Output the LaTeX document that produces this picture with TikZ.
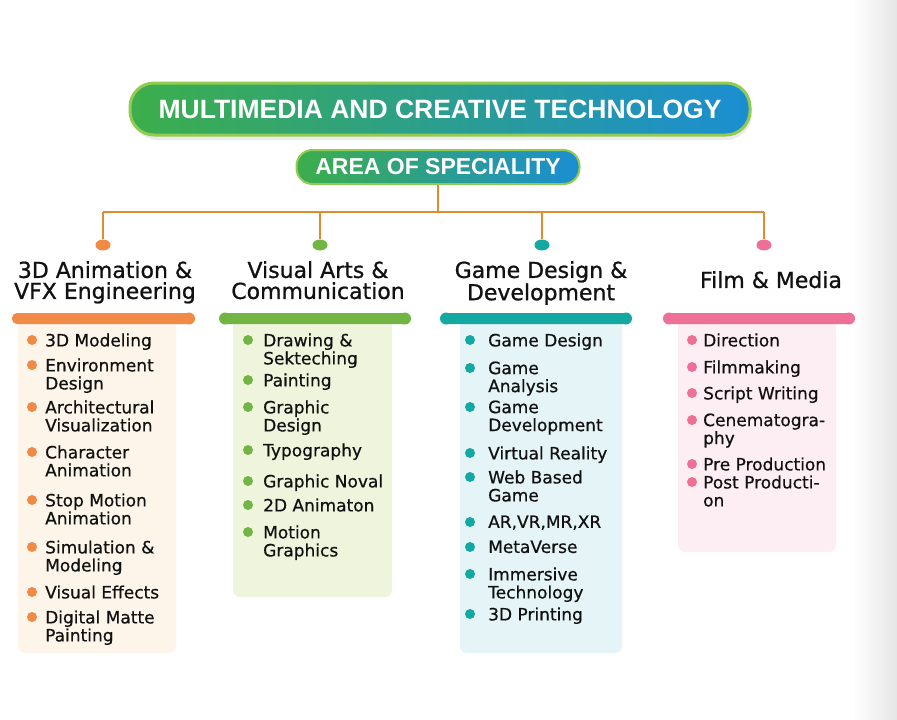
\documentclass[tikz,border=0pt]{standalone}
\usepackage{fontspec}
\setmainfont{DejaVu Sans}
\newfontfamily\medfont{DejaVu Sans}[FakeBold=0.6]
\newfontfamily\headfont{DejaVu Sans}[FakeBold=0.9]
\newfontfamily\titlefont{Liberation Sans}
\usetikzlibrary{shapes.geometric}
\definecolor{cOr}{HTML}{F08A46}
\definecolor{cGr}{HTML}{72B545}
\definecolor{cTe}{HTML}{14A8A2}
\definecolor{cPi}{HTML}{EE7096}
\definecolor{pOr}{HTML}{FDF4EA}
\definecolor{pGr}{HTML}{EFF5DC}
\definecolor{pTe}{HTML}{E5F4F7}
\definecolor{pPi}{HTML}{FDEEF3}
\definecolor{gL}{HTML}{3CAE4B}
\definecolor{gR}{HTML}{1B8ED3}
\definecolor{tborder}{HTML}{93CB52}
\definecolor{lineor}{HTML}{DE8B32}
\definecolor{txt}{HTML}{111111}
\tikzset{
  item/.style={anchor=north west, inner sep=0pt, align=left, font=\medfont\fontsize{17}{18}\selectfont, text=txt},
  bul/.style={circle, fill=#1, minimum size=10pt, inner sep=0pt},
  dot/.style={ellipse, fill=#1, minimum width=15pt, minimum height=11pt, inner sep=0pt},
  head/.style={anchor=north, inner sep=0pt, align=center, font=\headfont\fontsize{22}{21}\selectfont, text=txt},
  conn/.style={draw=lineor, line width=2.5pt},
  gradbox/.style={draw=tborder, left color=gL, right color=gR, text=white, inner sep=0pt},
  barbox/.style={fill=#1, rounded corners=5pt, minimum height=11pt, inner sep=0pt},
  barend/.style={circle, fill=#1, minimum size=12pt, inner sep=0pt},
}
\begin{document}
\begin{tikzpicture}[x=1pt,y=-1pt]
\useasboundingbox (0,0) rectangle (897,720);
\fill[white] (0,0) rectangle (897,720);
\shade[left color=white, right color=black!10] (852,0) rectangle (897,720);

% title boxes
\fill[black!8, rounded corners=26pt] (132,88) rectangle (752,140);
\node[gradbox, line width=3pt, rounded corners=24pt, minimum width=620pt, minimum height=52pt,
      font=\titlefont\bfseries\fontsize{26.5}{30}\selectfont] (title) at (440,109) {MULTIMEDIA AND CREATIVE TECHNOLOGY};
\node[gradbox, line width=2pt, rounded corners=16pt, minimum width=283pt, minimum height=34pt,
      font=\titlefont\bfseries\fontsize{23}{26}\selectfont] (sub) at (438,167) {AREA OF SPECIALITY};

% connectors
\coordinate (h1) at (103,212);
\coordinate (h4) at (764,212);
\node[dot=cOr] (d1) at (103,245) {};
\node[dot=cGr] (d2) at (320,245) {};
\node[dot=cTe] (d3) at (542,245) {};
\node[dot=cPi] (d4) at (764,245) {};
\draw[conn] (sub.south) -- (sub.south |- h1);
\draw[conn] (h1) -- (h4);
\draw[conn] (h1) -- (d1);
\draw[conn] (d2 |- h1) -- (d2);
\draw[conn] (d3 |- h1) -- (d3);
\draw[conn] (h4) -- (d4);

% headings
\node[head] (t1) at (105,261) {3D Animation \&\\VFX Engineering};
\node[head] (t2) at (318,261) {Visual Arts \&\\Communication};
\node[head] (t3) at (541,261) {Game Design \&\\Development};
\node[head] (t4) at (771,271) {Film \& Media};

% panels
\fill[pOr, rounded corners=7pt] (18,318) rectangle (176,653);
\fill[pGr, rounded corners=7pt] (233,318) rectangle (392,597);
\fill[pTe, rounded corners=7pt] (460,318) rectangle (622,653);
\fill[pPi, rounded corners=7pt] (678,318) rectangle (836,552);

% bars
\node[barbox=cOr, minimum width=181pt] (b1) at (102.5,318.5) {};
\node[barend=cOr] (b1r) at (189,318.5) {};
\node[barbox=cGr, minimum width=188pt] (b2) at (315,318.5) {};
\node[barend=cGr] (b2l) at (225,318.5) {};
\node[barend=cGr] (b2r) at (405,318.5) {};
\node[barbox=cTe, minimum width=188pt] (b3) at (536,318.5) {};
\node[barend=cTe] (b3l) at (446,318.5) {};
\node[barend=cTe] (b3r) at (626,318.5) {};
\node[barbox=cPi, minimum width=188pt] (b4) at (759,318.5) {};
\node[barend=cPi] (b4l) at (669,318.5) {};
\node[barend=cPi] (b4r) at (849,318.5) {};

% items
\foreach \yy/\txt [count=\i] in {340/{3D Modeling}, 365/{Environment\\Design}, 407/{Architectural\\Visualization},
   452/{Character\\Animation}, 500/{Stop Motion\\Animation}, 547/{Simulation \&\\Modeling},
   592/{Visual Effects}, 617/{Digital Matte\\Painting}}
{ \node[bul=cOr] (ab\i) at (32,\yy) {};
  \node[item] (a\i) at (45,\yy-6.7) {\txt}; }

\foreach \yy/\txt [count=\i] in {340/{Drawing \&\\Sekteching}, 380/{Painting}, 407/{Graphic\\Design},
   450/{Typography}, 481/{Graphic Noval}, 505/{2D Animaton}, 532/{Motion\\Graphics}}
{ \node[bul=cGr] (gb\i) at (248,\yy) {};
  \node[item] (g\i) at (263,\yy-6.7) {\txt}; }

\foreach \yy/\txt [count=\i] in {340/{Game Design}, 368/{Game\\Analysis}, 407/{Game\\Development},
   453/{Virtual Reality}, 477/{Web Based\\Game}, 522/{AR,VR,MR,XR}, 547/{MetaVerse},
   574/{Immersive\\Technology}, 614/{3D Printing}}
{ \node[bul=cTe] (tb\i) at (470,\yy) {};
  \node[item] (te\i) at (488,\yy-6.7) {\txt}; }

\foreach \yy/\txt [count=\i] in {340/{Direction}, 367/{Filmmaking}, 393/{Script Writing},
   420/{Cenematogra-\\phy}, 464/{Pre Production}, 482/{Post Producti-\\on}}
{ \node[bul=cPi] (pb\i) at (692,\yy) {};
  \node[item] (p\i) at (703,\yy-6.7) {\txt}; }
\end{tikzpicture}
\end{document}
